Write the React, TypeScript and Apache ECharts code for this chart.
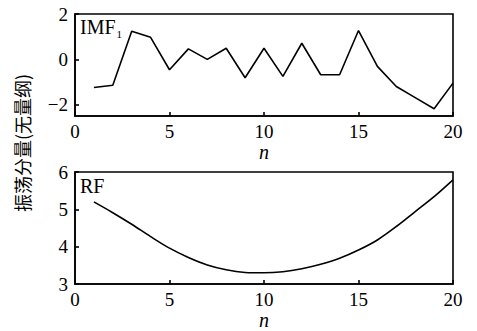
import React, { useEffect, useRef } from "react";
import * as echarts from "echarts";

const nValues = [1, 2, 3, 4, 5, 6, 7, 8, 9, 10, 11, 12, 13, 14, 15, 16, 17, 18, 19, 20];
const imf1 = [-1.24, -1.14, 1.24, 0.97, -0.46, 0.46, 0, 0.49, -0.81, 0.49, -0.75, 0.71, -0.68, -0.68, 1.27, -0.31, -1.2, -1.69, -2.18, -1.05];
const rf = [5.2, 4.91, 4.6, 4.27, 3.96, 3.71, 3.51, 3.38, 3.31, 3.3, 3.33, 3.41, 3.53, 3.69, 3.91, 4.18, 4.54, 4.94, 5.34, 5.79];
const imfTicks = [-2, 0, 2];
const yAxisTitle = "振荡分量(无量纲)";
const xAxisTitle = "n";

const serif = "Liberation Serif";

export default function App() {
  const ref = useRef<HTMLDivElement>(null);
  useEffect(() => {
    if (!ref.current) return;
    const chart = echarts.init(ref.current, undefined, { renderer: "svg" });
    const fmt = (v: number) => (v < 0 ? "\u2212" + Math.abs(v) : String(v));
    const lineW = 1.6;
    chart.setOption({
      animation: false,
      backgroundColor: "#fff",
      textStyle: { fontFamily: serif, color: "#000", fontSize: 19 },
      grid: [
        { left: 75, top: 14, width: 378, height: 102, show: true, borderColor: "#000", borderWidth: lineW, backgroundColor: "transparent" },
        { left: 75, top: 172, width: 378, height: 112, show: true, borderColor: "#000", borderWidth: lineW, backgroundColor: "transparent" },
      ],
      xAxis: [0, 1].map((g) => ({
        type: "value",
        gridIndex: g,
        min: 0,
        max: 20,
        interval: 5,
        name: xAxisTitle,
        nameLocation: "middle",
        nameGap: 22,
        nameTextStyle: { color: "#000", fontSize: 20, fontFamily: serif, fontStyle: "italic" },
        axisLine: { show: true, onZero: false, lineStyle: { color: "#000", width: lineW } },
        axisTick: { show: true, inside: true, length: 4, lineStyle: { color: "#000", width: lineW } },
        axisLabel: { show: true, color: "#000", fontSize: 19, fontFamily: serif, margin: 6, formatter: fmt },
        splitLine: { show: false },
      })),
      yAxis: [
        {
          type: "value",
          gridIndex: 0,
          min: -2.5,
          max: 2,
          axisLine: { show: true, onZero: false, lineStyle: { color: "#000", width: lineW } },
          axisTick: { show: true, inside: true, length: 4, customValues: imfTicks, lineStyle: { color: "#000", width: lineW } },
          axisLabel: { show: true, color: "#000", fontSize: 19, fontFamily: serif, margin: 7, formatter: fmt, customValues: imfTicks },
          splitLine: { show: false },
        },
        {
          type: "value",
          gridIndex: 1,
          min: 3,
          max: 6,
          interval: 1,
          axisLine: { show: true, onZero: false, lineStyle: { color: "#000", width: lineW } },
          axisTick: { show: true, inside: true, length: 4, lineStyle: { color: "#000", width: lineW } },
          axisLabel: { show: true, color: "#000", fontSize: 19, fontFamily: serif, margin: 7, formatter: fmt },
          splitLine: { show: false },
        },
      ],
      series: [
        {
          type: "line",
          xAxisIndex: 0,
          yAxisIndex: 0,
          data: nValues.map((n, i) => [n, imf1[i]]),
          showSymbol: false,
          lineStyle: { color: "#000", width: lineW },
        },
        {
          type: "line",
          xAxisIndex: 1,
          yAxisIndex: 1,
          data: nValues.map((n, i) => [n, rf[i]]),
          showSymbol: false,
          smooth: 0.3,
          lineStyle: { color: "#000", width: lineW },
        },
      ],
      graphic: [
        {
          type: "text",
          left: 80,
          top: 17,
          style: {
            text: "{a|IMF}{b|1}",
            rich: {
              a: { fontSize: 20, fontFamily: serif, fill: "#000", lineHeight: 24, verticalAlign: "middle" },
              b: { fontSize: 11, fontFamily: serif, fill: "#000", lineHeight: 24, verticalAlign: "bottom", padding: [0, 0, 0, 1] },
            },
          },
        },
        {
          type: "text",
          left: 80,
          top: 176,
          style: { text: "RF", fontSize: 20, fontFamily: serif, fill: "#000" },
        },
        {
          type: "text",
          x: 22,
          y: 143,
          rotation: Math.PI / 2,
          style: {
            text: yAxisTitle,
            fontSize: 18,
            fontFamily: "Noto Sans CJK SC",
            fill: "#000",
            align: "center",
            verticalAlign: "middle",
          },
        },
      ],
    });
    return () => chart.dispose();
  }, []);
  return <div ref={ref} style={{ position: "fixed", left: 0, top: 0, width: 477, height: 331 }} />;
}
